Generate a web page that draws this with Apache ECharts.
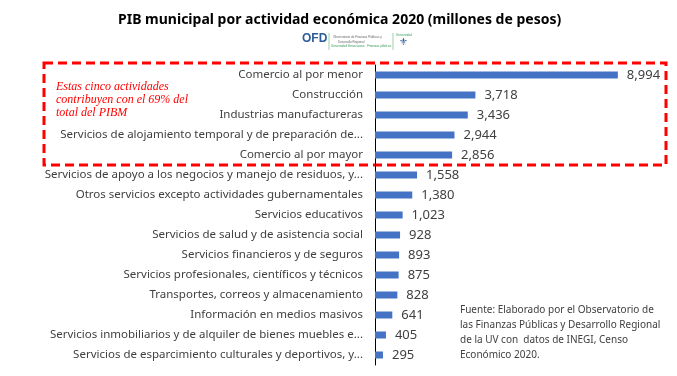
<!DOCTYPE html>
<html>
<head>
<meta charset="utf-8">
<script src="https://cdn.jsdelivr.net/npm/echarts@6/dist/echarts.min.js"></script>
<style>
  html, body { margin: 0; padding: 0; background: #fff; }
  #main { width: 677px; height: 376px; }
</style>
</head>
<body>
<div id="main"></div>
<script>
// datos del grafico (etiquetas tal como aparecen, recortadas)
const categorias = [
  "Comercio al por menor",
  "Construcción",
  "Industrias manufactureras",
  "Servicios de alojamiento temporal y de preparación de...",
  "Comercio al por mayor",
  "Servicios de apoyo a los negocios y manejo de residuos, y...",
  "Otros servicios excepto actividades gubernamentales",
  "Servicios educativos",
  "Servicios de salud y de asistencia social",
  "Servicios financieros y de seguros",
  "Servicios profesionales, científicos y técnicos",
  "Transportes, correos y almacenamiento",
  "Información en medios masivos",
  "Servicios inmobiliarios y de alquiler de bienes muebles e...",
  "Servicios de esparcimiento culturales y deportivos, y..."
];
const valores = [8994, 3718, 3436, 2944, 2856, 1558, 1380, 1023, 928, 893, 875, 828, 641, 405, 295];

const titulo = "PIB municipal por actividad económica 2020 (millones de pesos)";
const nota = ["Estas cinco actividades", "contribuyen con el 69% del", "total del PIBM"];
const fuente = [
  "Fuente: Elaborado por el Observatorio de",
  "las Finanzas Públicas y Desarrollo Regional",
  "de la UV con  datos de INEGI, Censo",
  "Económico 2020."
];

let myChart = echarts.init(document.getElementById("main"));

let option = {
  backgroundColor: "#fff",
  animation: false,
  grid: { left: 375, top: 65, right: 32, bottom: 11, containLabel: false },
  xAxis: {
    type: "value",
    min: 0,
    max: 10000,
    show: false
  },
  yAxis: {
    type: "category",
    inverse: true,
    data: categorias,
    axisLine: { show: true, lineStyle: { color: "#000", width: 1 } },
    axisTick: { show: false },
    axisLabel: {
      color: "#404040",
      fontFamily: "Noto Sans",
      fontSize: 11.5,
      margin: 12
    }
  },
  series: [{
    type: "bar",
    data: valores,
    barWidth: 7,
    itemStyle: { color: "#4472C4" },
    label: {
      show: true,
      position: "right",
      distance: 9,
      color: "#404040",
      fontFamily: "Noto Sans",
      fontSize: 13,
      formatter: p => p.value.toLocaleString("en-US")
    }
  }],
  graphic: [
    {
      type: "text", left: 118, top: 13,
      style: { text: titulo, font: "bold 14px 'Noto Sans'", fill: "#000" }
    },
    // logo OFD
    {
      type: "text", left: 302, top: 33,
      style: { text: "OFD", font: "bold 12px 'Liberation Sans'", fill: "#2E5C9A" }
    },
    {
      type: "line", shape: { x1: 329, y1: 33, x2: 329, y2: 50 },
      style: { stroke: "#9fd0a8", lineWidth: 1 }
    },
    {
      type: "text", left: 333, top: 35,
      style: { text: "Observatorio de Finanzas Públicas y\n      Desarrollo Regional", font: "3px 'Liberation Sans'", fill: "#666", lineHeight: 5 }
    },
    {
      type: "text", left: 331, top: 45,
      style: { text: "Universidad Veracruzana · Finanzas públicas", font: "3px 'Liberation Sans'", fill: "#3a9a5a" }
    },
    {
      type: "line", shape: { x1: 393, y1: 33, x2: 393, y2: 50 },
      style: { stroke: "#9fd0a8", lineWidth: 1 }
    },
    {
      type: "text", left: 396, top: 34,
      style: { text: "Universidad", font: "3px 'Liberation Sans'", fill: "#3a9a5a" }
    },
    {
      type: "text", left: 399, top: 37,
      style: { text: "\u269C", font: "10px 'DejaVu Sans'", fill: "#2E5C9A" }
    },
    // recuadro punteado
    {
      type: "rect", shape: { x: 44, y: 63, width: 622, height: 102 },
      style: { fill: "none", stroke: "#FF0000", lineWidth: 3, lineDash: [9, 5] }
    },
    {
      type: "text", left: 56, top: 80,
      style: {
        text: nota.join("\n"),
        font: "italic 12px 'Liberation Serif'",
        fill: "#FF0000",
        lineHeight: 13
      }
    },
    {
      type: "text", left: 460, top: 303,
      style: {
        text: fuente.join("\n"),
        font: "10px 'Noto Sans'",
        fill: "#404040",
        lineHeight: 15
      }
    }
  ]
};

myChart.setOption(option);
</script>
</body>
</html>
